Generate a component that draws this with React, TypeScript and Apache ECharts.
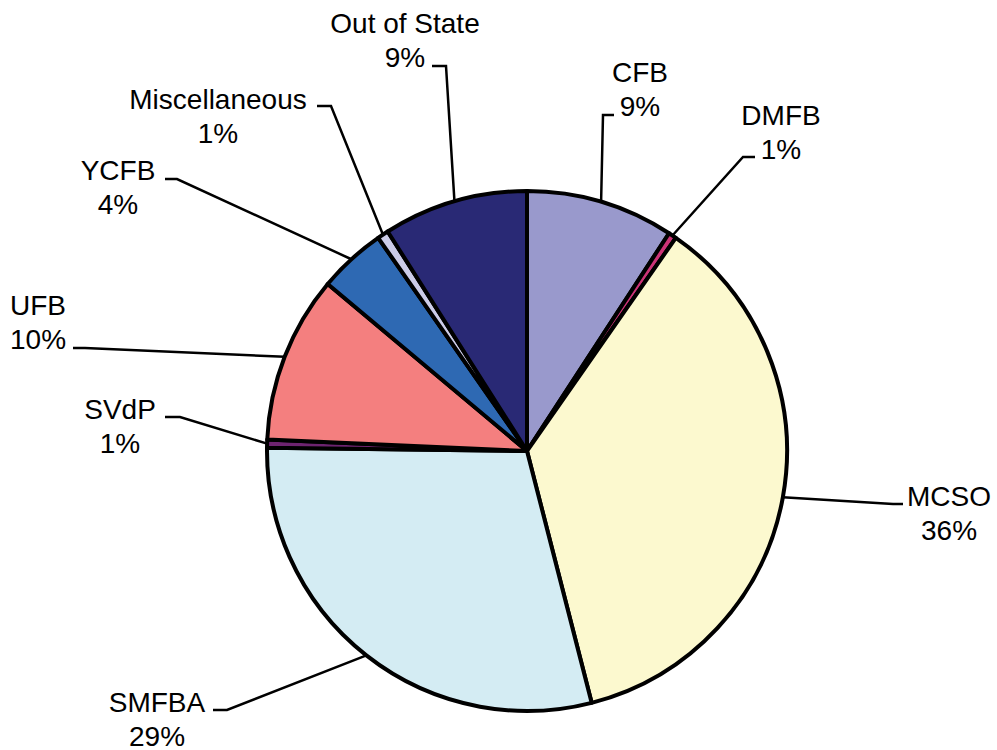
import React, { useEffect, useRef } from "react";
import * as echarts from "echarts";

const categories = [
  "CFB",
  "DMFB",
  "MCSO",
  "SMFBA",
  "SVdP",
  "UFB",
  "YCFB",
  "Miscellaneous",
  "Out of State",
];
const shares = [9.2, 0.5, 36.3, 29.2, 0.5, 10.4, 4.2, 0.7, 9.0];
const sliceColors = [
  "#9999CC",
  "#CC3377",
  "#FCF9CF",
  "#D4ECF3",
  "#6E2470",
  "#F47F7F",
  "#2E69B3",
  "#CCCCE8",
  "#292975",
];

// label placement: [textCenterX, textCenterY, elbowX, elbowY, endX, endY]
const labelGeometry: number[][] = [
  [640, 89, 603, 115, 614, 115],
  [781, 132, 743, 157, 755, 157],
  [949, 513, 893, 504, 903, 504],
  [157, 719, 227, 710, 213, 710],
  [120, 426, 180, 417, 165, 417],
  [38, 322, 85, 348, 73, 348],
  [118, 187, 177, 179, 165, 179],
  [218, 116, 331, 106, 317, 106],
  [405, 40, 446, 66, 432, 66],
];

export default function App() {
  const ref = useRef<HTMLDivElement>(null);
  useEffect(() => {
    if (!ref.current) return;
    const chart = echarts.init(ref.current, undefined, { renderer: "svg" });
    chart.setOption({
      animation: false,
      backgroundColor: "#ffffff",
      series: [
        {
          type: "pie",
          center: [527, 451],
          radius: 260,
          startAngle: 90,
          clockwise: true,
          avoidLabelOverlap: false,
          percentPrecision: 0,
          emphasis: { disabled: true },
          itemStyle: { borderColor: "#000000", borderWidth: 4 },
          label: {
            show: true,
            position: "outside",
            formatter: "{b}\n{d}%",
            color: "#000000",
            fontSize: 28,
            lineHeight: 34,
            fontFamily: "'Liberation Sans', Arial, sans-serif",
          },
          labelLine: {
            show: true,
            length: 10,
            length2: 10,
            lineStyle: { color: "#000000", width: 2.5 },
          },
          labelLayout: (params: any) => {
            const g = labelGeometry[params.dataIndex];
            const anchor =
              params.labelLinePoints && params.labelLinePoints[0]
                ? params.labelLinePoints[0]
                : [g[2], g[3]];
            return {
              x: g[0],
              y: g[1],
              align: "center",
              verticalAlign: "middle",
              labelLinePoints: [anchor, [g[2], g[3]], [g[4], g[5]]],
            };
          },
          data: categories.map((name, i) => ({
            name,
            value: shares[i],
            itemStyle: { color: sliceColors[i] },
          })),
        },
      ],
    });
    return () => chart.dispose();
  }, []);
  return (
    <div
      ref={ref}
      style={{ position: "fixed", left: 0, top: 0, width: 997, height: 750 }}
    />
  );
}
